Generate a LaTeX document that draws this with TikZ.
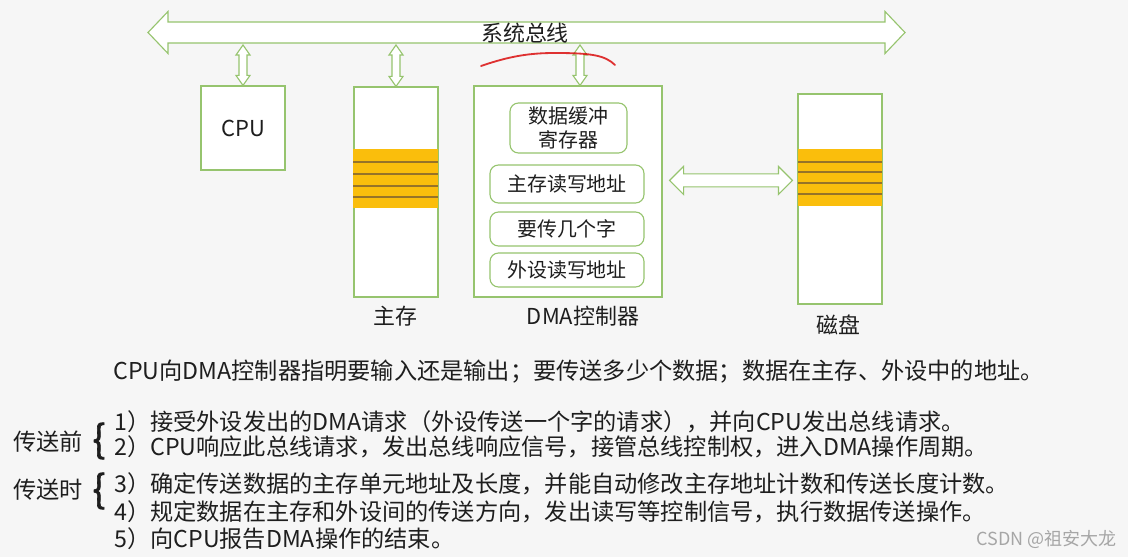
\documentclass[tikz,border=0pt]{standalone}
\usepackage{fontspec}
\newfontfamily\cjk{Noto Sans CJK SC}
\newfontfamily\cjkheavy[FakeBold=1.6]{Noto Sans CJK SC}
\usepackage{tikz}
\usetikzlibrary{calc}

\definecolor{boxgreen}{RGB}{150,196,110}
\definecolor{bandyellow}{RGB}{250,190,12}
\definecolor{bandline}{RGB}{150,115,40}
\definecolor{bggray}{RGB}{246,246,246}
\definecolor{txtgray}{RGB}{30,30,30}

\newcommand{\pxl}{0.025cm}
% horizontal hollow double arrow: left tip, right tip, head length, head half, shaft half
\newcommand{\hdbl}[5]{\draw[blk] (#1) -- ($(#1)+(#3,-#4)$) -- ($(#1)+(#3,-#5)$) -- ($(#2)+(-#3,-#5)$) -- ($(#2)+(-#3,-#4)$) -- (#2) -- ($(#2)+(-#3,#4)$) -- ($(#2)+(-#3,#5)$) -- ($(#1)+(#3,#5)$) -- ($(#1)+(#3,#4)$) -- cycle;}
% vertical hollow double arrow: top tip, bottom tip, head length, head half, shaft half
\newcommand{\vdbl}[5]{\draw[blk] (#1) -- ($(#1)+(#4,#3)$) -- ($(#1)+(#5,#3)$) -- ($(#2)+(#5,-#3)$) -- ($(#2)+(#4,-#3)$) -- (#2) -- ($(#2)+(-#4,-#3)$) -- ($(#2)+(-#5,-#3)$) -- ($(#1)+(-#5,#3)$) -- ($(#1)+(-#4,#3)$) -- cycle;}

\tikzset{
  box/.style={draw=boxgreen, fill=white, line width=0.8pt},
  blk/.style={draw=boxgreen, fill=white, line width=0.8pt, line join=miter},
  reg/.style={box, rounded corners=6pt, align=center, text=txtgray, font=\cjk\fontsize{14.2pt}{17pt}\selectfont},
  lbl/.style={text=txtgray, inner sep=0, font=\cjk\fontsize{15.6pt}{18pt}\selectfont},
  txt/.style={anchor=west, text=txtgray, inner sep=0, font=\cjk\fontsize{16.5pt}{20pt}\selectfont},
  brc/.style={text=txtgray, inner sep=0, font=\cjkheavy\fontsize{27pt}{30pt}\selectfont},
  bandrule/.style={draw=bandline, line width=1pt},
}

\begin{document}
\begin{tikzpicture}[x=0.025cm,y=-0.025cm]
  \useasboundingbox (0,0) rectangle (1128,557);
  \fill[bggray] (0,0) rectangle (1128,557);

  % system bus
  \coordinate (busL) at (148,32.5);
  \coordinate (busR) at (905,32.5);
  \coordinate (busB) at (0,45);
  \hdbl{busL}{busR}{20}{21}{10.5}
  \node[lbl] (bus) at (525,33) {系统总线};

  % boxes
  \node[box, minimum width=84*\pxl, minimum height=84*\pxl, lbl, draw=boxgreen, fill=white] (cpu) at (243,128) {CPU};
  \node[box, minimum width=84*\pxl, minimum height=210*\pxl] (mem) at (396,192) {};
  \fill[bandyellow] (353,149) rectangle (438,208);
  \foreach \yy in {162,174,186,197}
    \draw[bandrule] (353,\yy) -- (438,\yy);
  \node[lbl] (memlbl) at (395,316) {主存};

  \node[box, minimum width=188*\pxl, minimum height=211*\pxl] (dma) at (568,191.5) {};
  \node[reg, minimum width=117*\pxl, minimum height=50*\pxl, inner sep=0] (buf) at (568.5,128) {数据缓冲\\寄存器};
  \node[reg, minimum width=154*\pxl, minimum height=38*\pxl] (maddr) at (567,184) {主存读写地址};
  \node[reg, minimum width=154*\pxl, minimum height=34*\pxl] (cnt) at (567,229) {要传几个字};
  \node[reg, minimum width=154*\pxl, minimum height=34*\pxl] (daddr) at (567,270) {外设读写地址};
  \node[lbl] (dmalbl) at (583,316) {DMA控制器};

  \node[box, minimum width=84*\pxl, minimum height=210*\pxl] (disk) at (840,199) {};
  \fill[bandyellow] (798,149) rectangle (882,206);
  \foreach \yy in {162,172,183,194}
    \draw[bandrule] (798,\yy) -- (882,\yy);
  \node[lbl] (disklbl) at (838,325) {磁盘};

  % links to the bus
  \vdbl{cpu.north |- busB}{cpu.north}{10}{7}{4}
  \vdbl{mem.north |- busB}{mem.north}{10}{7}{4}
  \coordinate (dmaup) at ($(dma.north)+(12,0)$);
  \vdbl{dmaup |- busB}{dmaup}{10}{7}{4}

  % dma <-> disk
  \coordinate (hl) at ($(dma.north east)+(7,95)$);
  \coordinate (hr) at (disk.west |- hl);
  \hdbl{hl}{$(hr)+(-5,0)$}{14}{14}{6.5}

  % red mark
  \draw[red!85!black, line width=1.3pt, line cap=round, opacity=0.8] (481,66) .. controls (510,56) and (530,53) .. (555,53) .. controls (590,53) and (605,55) .. (615,65);

  % text
  \node[txt] (intro) at (113,372) {CPU向DMA控制器指明要输入还是输出；要传送多少个数据；数据在主存、外设中的地址。};
  \node[lbl, font=\cjk\fontsize{16.5pt}{20pt}\selectfont] (pre) at (48,442) {传送前};
  \node[brc] (prebr) at (99,441) {\{};
  \node[lbl, font=\cjk\fontsize{16.5pt}{20pt}\selectfont] (dur) at (48,490) {传送时};
  \node[brc] (durbr) at (99,491) {\{};
  \node[txt] (s1) at (114,422) {1）接受外设发出的DMA请求（外设传送一个字的请求），并向CPU发出总线请求。};
  \node[txt] (s2) at (114,447) {2）CPU响应此总线请求，发出总线响应信号，接管总线控制权，进入DMA操作周期。};
  \node[txt] (s3) at (114,484) {3）确定传送数据的主存单元地址及长度，并能自动修改主存地址计数和传送长度计数。};
  \node[txt] (s4) at (114,512) {4）规定数据在主存和外设间的传送方向，发出读写等控制信号，执行数据传送操作。};
  \node[txt] (s5) at (114,539) {5）向CPU报告DMA操作的结束。};
  \node[txt, text=gray!70, font=\cjk\fontsize{12.8pt}{15pt}\selectfont] (mark) at (976,539) {CSDN @祖安大龙};
\end{tikzpicture}
\end{document}
